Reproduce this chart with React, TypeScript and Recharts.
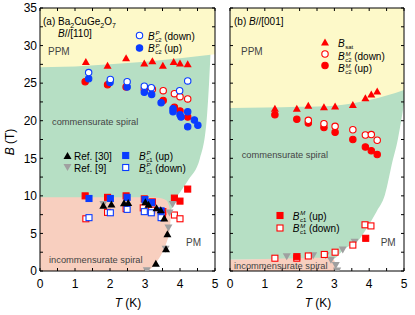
import React from "react";
import { ComposedChart, Area, Scatter, XAxis, YAxis } from "recharts";

const FONT = "'Liberation Sans', Arial, sans-serif";
const RED = "#ff0000";
const BLUE = "#0a3cff";
const GREY = "#a0a0a0";
const YELLOW = "#fdf9c9";
const GREEN = "#b6dfc4";
const PINK = "#f8cfbf";

const xTicks = [0, 0.5, 1, 1.5, 2, 2.5, 3, 3.5, 4, 4.5, 5];
const yTicks = [0, 2.5, 5, 7.5, 10, 12.5, 15, 17.5, 20, 22.5, 25, 27.5, 30, 32.5, 35];
const B_TOP = 35;

// ---- panel (a) B//[110] ----
const aSatT = [1.31, 1.93, 2.46, 2.98, 3.21, 3.51, 3.82, 4.0, 4.22];
const aSatB = [27.8, 27.3, 28.3, 27.6, 27.9, 27.3, 27.8, 27.6, 27.5];
const aC2DownT = [1.39, 2.01, 2.49, 2.98, 3.18, 3.99, 4.22];
const aC2DownB = [26.4, 25.5, 25.2, 24.6, 24.4, 24.0, 25.3];
const aC2UpT = [1.39, 2.0, 2.49, 2.98, 3.19, 3.46, 3.8, 3.8, 4.0, 4.03, 4.22, 4.22, 4.41, 4.51];
const aC2UpB = [25.6, 25.1, 24.5, 23.8, 23.5, 22.4, 21.6, 21.2, 20.8, 20.5, 21.2, 19.2, 20.1, 19.4];
const aMC2UpT = [1.29, 1.93, 2.46, 3.52, 3.84, 4.0, 4.22];
const aMC2UpB = [25.2, 24.8, 24.5, 22.7, 21.8, 21.3, 20.5];
const aMC2DownT = [2.98, 3.21, 3.52, 3.84, 4.0, 4.22];
const aMC2DownB = [24.2, 24.2, 24.0, 23.6, 23.2, 22.9];
const aMC1UpT = [1.29, 1.93, 2.46, 2.98, 3.21, 3.51, 3.84, 4.0, 4.22];
const aMC1UpB = [10.0, 9.8, 10.0, 9.6, 9.2, 7.9, 9.7, 9.3, 10.9];
const aC1UpT = [1.4, 2.01, 2.49, 3.0, 3.19, 3.46];
const aC1UpB = [9.65, 9.65, 9.8, 9.5, 9.1, 8.0];
const aMC1DownT = [1.31, 1.93, 2.46, 2.95, 3.19, 3.5, 3.84, 4.0];
const aMC1DownB = [6.95, 7.8, 8.3, 8.4, 8.1, 7.4, 7.45, 6.95];
const aC1DownT = [1.4, 2.01, 2.49, 2.98, 3.18, 3.46];
const aC1DownB = [7.1, 7.75, 8.2, 7.9, 7.75, 7.1];
const aRef30T = [1.81, 2.04, 2.4, 2.52, 3.01, 3.1, 3.33, 3.45, 3.55, 3.64, 3.6, 3.31];
const aRef30B = [8.7, 8.85, 9.0, 9.05, 9.15, 8.8, 8.35, 8.1, 7.0, 4.9, 2.9, 0.95];
const aRef9T = [1.81, 3.79, 3.7, 3.67, 3.59, 3.05];
const aRef9B = [8.9, 8.9, 7.8, 5.8, 2.95, 0.1];

// phase regions (a)
const aYellowT = [0, 1, 2, 3, 4, 5];
const aYellowLo = [27.1, 27.2, 27.5, 27.85, 28.3, 28.85];
const aGreenT = [0, 3.2, 3.4, 3.5, 3.6, 3.67, 3.71, 3.86, 4.05, 4.25, 4.57, 4.76, 4.83, 4.87];
const aGreenLo = [9.5, 9.5, 9.45, 9.3, 9.0, 8.6, 8.0, 9.47, 10.8, 12.2, 15, 20, 25, 28.75];
const aPinkT = [0, 3.05, 3.19, 3.3, 3.43, 3.55, 3.63, 3.67, 3.71, 3.73];
const aPinkLo = [0, 0, 0.4, 1.0, 1.9, 3.0, 4.0, 4.6, 5.7, 6.8];
const aPinkHi = [9.8, 9.8, 9.8, 9.78, 9.72, 9.55, 9.3, 8.9, 8.1, 6.8];

// ---- panel (b) B//[001] ----
const bSatT = [1.29, 1.92, 2.25, 2.7, 3.02, 3.53, 3.89, 4.06, 4.23];
const bSatB = [21.6, 21.6, 22.0, 21.8, 21.9, 22.1, 23.0, 23.5, 23.9];
const bC2UpT = [1.29, 1.92, 2.25, 2.7, 3.02, 3.53, 3.89, 4.06, 4.23];
const bC2UpB = [20.8, 20.2, 19.7, 19.1, 18.45, 17.5, 16.5, 16.0, 15.5];
const bC2DownT = [2.25, 2.7, 3.02, 3.53, 3.89, 4.06, 4.23];
const bC2DownB = [20.05, 19.6, 19.25, 18.8, 18.1, 18.15, 17.4];
const bC1DownT = [1.29, 1.92, 2.25, 2.71, 3.02, 3.53, 3.88, 4.05];
const bC1DownB = [1.7, 1.7, 2.0, 2.2, 2.5, 3.45, 6.15, 6.0];
const bC1UpT = [1.92, 3.9];
const bC1UpB = [1.9, 4.35];
const bRef9T = [1.63, 1.93, 2.39, 2.75, 2.9, 3.04, 3.08, 3.24, 3.58];
const bRef9B = [1.95, 2.0, 2.1, 2.1, 1.5, 0.8, 0.05, 2.85, 3.9];

const bYellowT = [0, 1, 2, 3, 3.5, 4, 4.5, 5];
const bYellowLo = [21.7, 21.75, 21.85, 22.0, 22.3, 22.75, 23.35, 24.1];
const bGreenT = [0, 2.95, 3.3, 3.69, 3.93, 4.21, 4.45, 4.68, 4.8, 4.9, 5.0];
const bGreenLo = [1.5, 1.6, 3.0, 4.1, 5.7, 7.9, 10.1, 14.8, 17, 19.5, 22.3];
const bPinkT = [0, 1, 2, 2.9, 2.97, 3.03, 3.07];
const bPinkHi = [1.5, 1.6, 1.7, 1.75, 1.6, 0.9, 0];

const pts = (t: number[], b: number[]) => t.map((T, i) => ({ T, B: b[i] }));
const band = (t: number[], lo: number[], hi: number[]) =>
  t.map((T, i) => ({ T, r: [lo[i], hi[i]] }));
const top = (t: number[]) => t.map(() => B_TOP);
const zero = (t: number[]) => t.map(() => 0);

// marker shapes
const Circ = ({ cx, cy, color, open }: any) => (
  <circle cx={cx} cy={cy} r={3.2} fill={open ? "#fff" : color} stroke={color} strokeWidth={1.1} />
);
const Sq = ({ cx, cy, color, open }: any) => (
  <rect x={cx - 3} y={cy - 3} width={6} height={6} fill={open ? "#fff" : color} stroke={color} strokeWidth={1.1} />
);
const TriUp = ({ cx, cy, color }: any) => (
  <polygon points={`${cx},${cy - 4} ${cx - 4},${cy + 3} ${cx + 4},${cy + 3}`} fill={color} />
);
const TriDown = ({ cx, cy, color }: any) => (
  <polygon points={`${cx},${cy + 4} ${cx - 4},${cy - 3} ${cx + 4},${cy - 3}`} fill={color} />
);

const tickStyle = { fontSize: 12, fill: "#000", fontFamily: FONT };
const xFmt = (v: number) => (Number.isInteger(v) ? `${v}` : "");
const yFmt = (v: number) => (v % 5 === 0 ? `${v}` : "");
const none = () => "";

function Axes({ leftLabels }: { leftLabels: boolean }) {
  return (
    <>
      <XAxis
        xAxisId={0}
        type="number"
        dataKey="T"
        domain={[0, 5]}
        allowDataOverflow
        ticks={xTicks}
        interval={0}
        tickFormatter={xFmt}
        tickSize={-3}
        tickMargin={11}
        height={44}
        tick={tickStyle}
        stroke="#000"
      />
      <XAxis
        xAxisId="top"
        orientation="top"
        type="number"
        dataKey="T"
        domain={[0, 5]}
        allowDataOverflow
        ticks={xTicks}
        interval={0}
        tickFormatter={none}
        tickSize={-3}
        height={1}
        stroke="#000"
      />
      <YAxis
        yAxisId={0}
        type="number"
        dataKey="B"
        domain={[0, 35]}
        allowDataOverflow
        ticks={yTicks}
        interval={0}
        tickFormatter={leftLabels ? yFmt : none}
        tickSize={-3}
        tickMargin={6}
        width={leftLabels ? 40 : 8}
        tick={tickStyle}
        stroke="#000"
      />
      <YAxis
        yAxisId="r"
        orientation="right"
        type="number"
        dataKey="B"
        domain={[0, 35]}
        allowDataOverflow
        ticks={yTicks}
        interval={0}
        tickFormatter={none}
        tickSize={-3}
        width={1}
        stroke="#000"
      />
    </>
  );
}

const region = (key: string, data: any[], fill: string, type: any = "monotone") => (
  <Area
    key={key}
    data={data}
    dataKey="r"
    type={type}
    stroke="none"
    fill={fill}
    fillOpacity={1}
    dot={false}
    activeDot={false}
    isAnimationActive={false}
  />
);

const series = (key: string, data: any[], Shape: any, color: string, open = false) => (
  <Scatter
    key={key}
    data={data}
    isAnimationActive={false}
    shape={(p: any) => <Shape cx={p.cx} cy={p.cy} color={color} open={open} />}
  />
);

function PanelA() {
  return (
    <ComposedChart width={219} height={315} margin={{ top: 7, right: 3, bottom: 0, left: 0 }}>
      {region("ag", band(aGreenT, aGreenLo, top(aGreenT)), GREEN)}
      {region("ay", band(aYellowT, aYellowLo, top(aYellowT)), YELLOW, "linear")}
      {region("ap", band(aPinkT, aPinkLo, aPinkHi), PINK)}
      {series("a1", pts(aMC1UpT, aMC1UpB), Sq, RED)}
      {series("a2", pts(aMC1DownT, aMC1DownB), Sq, RED, true)}
      {series("a3", pts(aC1UpT, aC1UpB), Sq, BLUE)}
      {series("a4", pts(aC1DownT, aC1DownB), Sq, BLUE, true)}
      {series("a5", pts(aRef9T, aRef9B), TriDown, GREY)}
      {series("a6", pts(aRef30T, aRef30B), TriUp, "#000")}
      {series("a7", pts(aMC2UpT, aMC2UpB), Circ, RED)}
      {series("a8", pts(aMC2DownT, aMC2DownB), Circ, RED, true)}
      {series("a9", pts(aC2UpT, aC2UpB), Circ, BLUE)}
      {series("a10", pts(aC2DownT, aC2DownB), Circ, BLUE, true)}
      {series("a11", pts(aSatT, aSatB), TriUp, RED)}
      {Axes({ leftLabels: true })}
    </ComposedChart>
  );
}

function PanelB() {
  return (
    <ComposedChart width={190} height={315} margin={{ top: 7, right: 7, bottom: 0, left: 0 }}>
      {region("bg", band(bGreenT, bGreenLo, top(bGreenT)), GREEN)}
      {region("by", band(bYellowT, bYellowLo, top(bYellowT)), YELLOW)}
      {region("bp", band(bPinkT, zero(bPinkT), bPinkHi), PINK)}
      {series("b1", pts(bRef9T, bRef9B), TriDown, GREY)}
      {series("b2", pts(bC1DownT, bC1DownB), Sq, RED, true)}
      {series("b3", pts(bC1UpT, bC1UpB), Sq, RED)}
      {series("b4", pts(bC2UpT, bC2UpB), Circ, RED)}
      {series("b5", pts(bC2DownT, bC2DownB), Circ, RED, true)}
      {series("b6", pts(bSatT, bSatB), TriUp, RED)}
      {Axes({ leftLabels: false })}
    </ComposedChart>
  );
}

// B with stacked subscript / superscript, then a tail (separate text pieces)
function BSym({ x, y, sub, sup, tail }: { x: number; y: number; sub: string; sup?: string; tail?: string }) {
  const subW = sub.length * 3.6;
  return (
    <g fill="#000">
      <text x={x} y={y} fontStyle="italic" fontSize={10}>B</text>
      <text x={x + 7.2} y={y + 2} fontSize={6}>{sub}</text>
      {sup && (
        <text x={x + 7.6} y={y - 4.3} fontSize={6} fontStyle="italic">{sup}</text>
      )}
      {tail && <text x={x + 7.2 + subW + 1.8} y={y} fontSize={10}>{tail}</text>}
    </g>
  );
}

function Overlay() {
  const lbl = { fontSize: 9.3, fill: "#444" };
  return (
    <svg width={415} height={315} style={{ position: "absolute", left: 0, top: 0, pointerEvents: "none" }} fontFamily={FONT}>
      {/* panel a */}
      <text x={43} y={25} fontSize={10}>
        (a) Ba<tspan dy={2.5} fontSize={7}>2</tspan>
        <tspan dy={-2.5}>CuGe</tspan>
        <tspan dy={2.5} fontSize={7}>2</tspan>
        <tspan dy={-2.5}>O</tspan>
        <tspan dy={2.5} fontSize={7}>7</tspan>
      </text>
      <text x={58} y={37} fontSize={10}>
        <tspan fontStyle="italic">B</tspan>//[110]
      </text>
      <text x={48} y={55} {...lbl} fontSize={10}>PPM</text>
      <Circ cx={139.5} cy={35.5} color={BLUE} open />
      <BSym x={148} y={39.5} sub="c2" sup="P" tail="(down)" />
      <Circ cx={139.5} cy={48} color={BLUE} />
      <BSym x={148} y={52} sub="c2" sup="P" tail="(up)" />
      <text x={52} y={124.5} {...lbl}>commensurate spiral</text>
      <TriUp cx={67.5} cy={156} color="#000" />
      <text x={74} y={159.5} fontSize={10}>Ref. [30]</text>
      <Sq cx={125.7} cy={155.5} color={BLUE} />
      <BSym x={139} y={159.5} sub="c1" sup="P" tail="(up)" />
      <TriDown cx={67.5} cy={167} color={GREY} />
      <text x={74} y={171.5} fontSize={10}>Ref. [9]</text>
      <Sq cx={125.7} cy={167.5} color={BLUE} open />
      <BSym x={139} y={171.5} sub="c1" sup="P" tail="(down)" />
      <text x={49} y={262.5} {...lbl}>incommensurate spiral</text>
      <text x={186} y={246} {...lbl} fontSize={10}>PM</text>

      {/* panel b */}
      <text x={234} y={25} fontSize={10}>
        (b) <tspan fontStyle="italic">B</tspan>//[001]
      </text>
      <text x={241} y={55} {...lbl} fontSize={10}>PPM</text>
      <TriUp cx={325} cy={42.5} color={RED} />
      <BSym x={338} y={46.5} sub="sat" />
      <Circ cx={325} cy={54} color={RED} open />
      <BSym x={338} y={60} sub="c2" sup="M" tail="(down)" />
      <Circ cx={325} cy={65.5} color={RED} />
      <BSym x={338} y={72} sub="c2" sup="M" tail="(up)" />
      <text x={241.7} y={158} {...lbl}>commensurate spiral</text>
      <Sq cx={280} cy={215.5} color={RED} />
      <BSym x={292.7} y={219.5} sub="c1" sup="M" tail="(up)" />
      <Sq cx={280} cy={228} color={RED} open />
      <BSym x={292.7} y={232} sub="c1" sup="M" tail="(down)" />
      <text x={380.7} y={246} {...lbl} fontSize={10}>PM</text>
      <text x={234} y={268.5} {...lbl}>incommensurate spiral</text>

      {/* axis titles */}
      <text transform="translate(14,142) rotate(-90)" textAnchor="middle" fontSize={12}>
        <tspan fontStyle="italic">B</tspan> (T)
      </text>
      <text x={128} y={307} textAnchor="middle" fontSize={12}>
        <tspan fontStyle="italic">T</tspan> (K)
      </text>
      <text x={318} y={307} textAnchor="middle" fontSize={12}>
        <tspan fontStyle="italic">T</tspan> (K)
      </text>
    </svg>
  );
}

export default function App() {
  return (
    <div style={{ position: "absolute", left: 0, top: 0, width: 415, height: 315, background: "#fff", fontFamily: FONT }}>
      <div style={{ position: "absolute", left: 0, top: 0 }}>
        <PanelA />
      </div>
      <div style={{ position: "absolute", left: 222, top: 0 }}>
        <PanelB />
      </div>
      <Overlay />
    </div>
  );
}
